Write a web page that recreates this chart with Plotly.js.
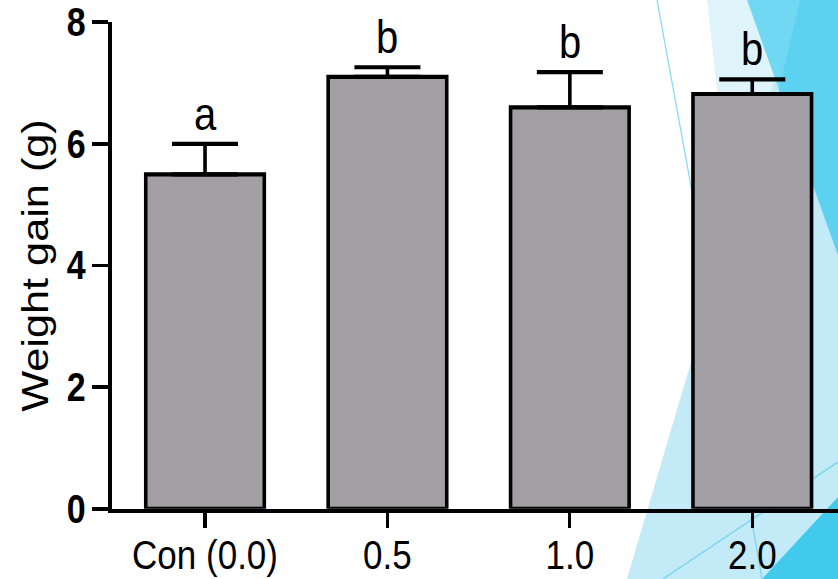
<!DOCTYPE html>
<html>
<head>
<meta charset="utf-8">
<script src="https://cdn.plot.ly/plotly-3.0.1.min.js"></script>
<style>
  html { margin: 0; padding: 0; background: #ffffff; overflow: hidden; }
  body { margin: 0; padding: 0; width: 838px; height: 579px; background: #ffffff; }
  /* the figure is laid out at 838x495 and stretched vertically to fill 838x579 */
  #chart { width: 838px; height: 495px; transform: scaleY(1.1697); transform-origin: 0 0; }
</style>
</head>
<body>
<div id="chart"></div>
<script>
// Weight gain by dose group (mean with upper error bar) and significance letters
const groups  = ['Con (0.0)', '0.5', '1.0', '2.0'];
const gain    = [5.5, 7.1, 6.6, 6.82];
const errUp   = [0.5, 0.16, 0.58, 0.24];
const letters = ['a', 'b', 'b', 'b'];
const yTicks  = [0, 2, 4, 6, 8];

const W = 838, H = 495, STRETCH = 579 / 495;
const M = { l: 112, r: 0, t: 19, b: 60 };

// decorative facet background, given in page pixels of the stretched figure
function toPaper(px, py) {
  const x = (px - M.l) / (W - M.l - M.r);
  const y = ((H - M.b) - py / STRETCH) / (H - M.t - M.b);
  return [x, y];
}
function poly(points, fill) {
  const d = points.map((p, i) => {
    const [x, y] = toPaper(p[0], p[1]);
    return (i ? 'L' : 'M') + x.toFixed(4) + ',' + y.toFixed(4);
  }).join(' ') + ' Z';
  return { type: 'path', xref: 'paper', yref: 'paper', path: d, fillcolor: fill,
           line: { width: 0 }, layer: 'below' };
}
function seg(a, b, color) {
  const [x0, y0] = toPaper(a[0], a[1]);
  const [x1, y1] = toPaper(b[0], b[1]);
  return { type: 'line', xref: 'paper', yref: 'paper', x0, y0, x1, y1,
           line: { color, width: 1.3 }, layer: 'below' };
}
const facets = [
  poly([[707, 0], [838, 0], [838, 579], [771, 579]], '#dff3fa'),
  poly([[627, 579], [798, 0], [838, 0], [838, 579]], '#c2eaf7'),
  poly([[747, 0], [838, 0], [838, 255]], '#70d8f2'),
  poly([[800, 0], [838, 0], [838, 255], [779, 90]], '#5cd2f0'),
  poly([[762, 579], [838, 497], [838, 579]], '#42caec'),
  seg([657, 0], [724, 367], '#8edcf3'),
  seg([663, 579], [838, 462], '#7fd6f0'),
  seg([752, 522], [762, 579], '#7fd6f0')
];

const bars = {
  type: 'bar',
  x: groups,
  y: gain,
  width: 0.65,
  marker: { color: '#a19fa4', line: { color: '#000000', width: 3.6 } },
  error_y: {
    type: 'data', symmetric: false, array: errUp, arrayminus: gain.map(() => 0),
    color: '#000000', thickness: 3.6, width: 33
  },
  hoverinfo: 'skip'
};

// letters sit above each error cap; x is the category index
const labelAnn = groups.map((g, i) => ({
  x: i, y: gain[i] + errUp[i], xref: 'x', yref: 'y',
  text: letters[i], showarrow: false, yanchor: 'middle', yshift: 26,
  font: { family: 'Liberation Sans, Arial, sans-serif', size: 40, color: '#000000' }
}));

const layout = {
  width: W, height: H,
  margin: M,
  paper_bgcolor: '#ffffff',
  plot_bgcolor: 'rgba(0,0,0,0)',
  showlegend: false,
  bargap: 0.35,
  xaxis: {
    type: 'category',
    range: [-0.51, 3.47],
    showline: true, linecolor: '#000000', linewidth: 3.6,
    ticks: 'outside', ticklen: 13, tickwidth: 3.2, tickcolor: '#000000',
    ticklabelstandoff: -7,
    showgrid: false, zeroline: false, fixedrange: true,
    tickfont: { family: 'Liberation Sans, Arial, sans-serif', size: 35, color: '#000000' }
  },
  yaxis: {
    range: [0, 8],
    tickvals: yTicks,
    ticktext: yTicks.map(String),
    ticklabeloverflow: 'allow',
    showline: true, linecolor: '#000000', linewidth: 3.6,
    ticks: 'outside', ticklen: 16, tickwidth: 3.2, tickcolor: '#000000',
    showgrid: false, zeroline: false, fixedrange: true,
    tickfont: { family: 'Liberation Sans, Arial, sans-serif', size: 34, weight: 'bold', color: '#000000' },
    title: {
      text: 'Weight gain (g)',
      standoff: 8,
      font: { family: 'Liberation Sans, Arial, sans-serif', size: 37, color: '#000000' }
    }
  },
  shapes: facets,
  annotations: labelAnn
};

Plotly.newPlot('chart', [bars], layout, { displayModeBar: false, staticPlot: true });
</script>
</body>
</html>
